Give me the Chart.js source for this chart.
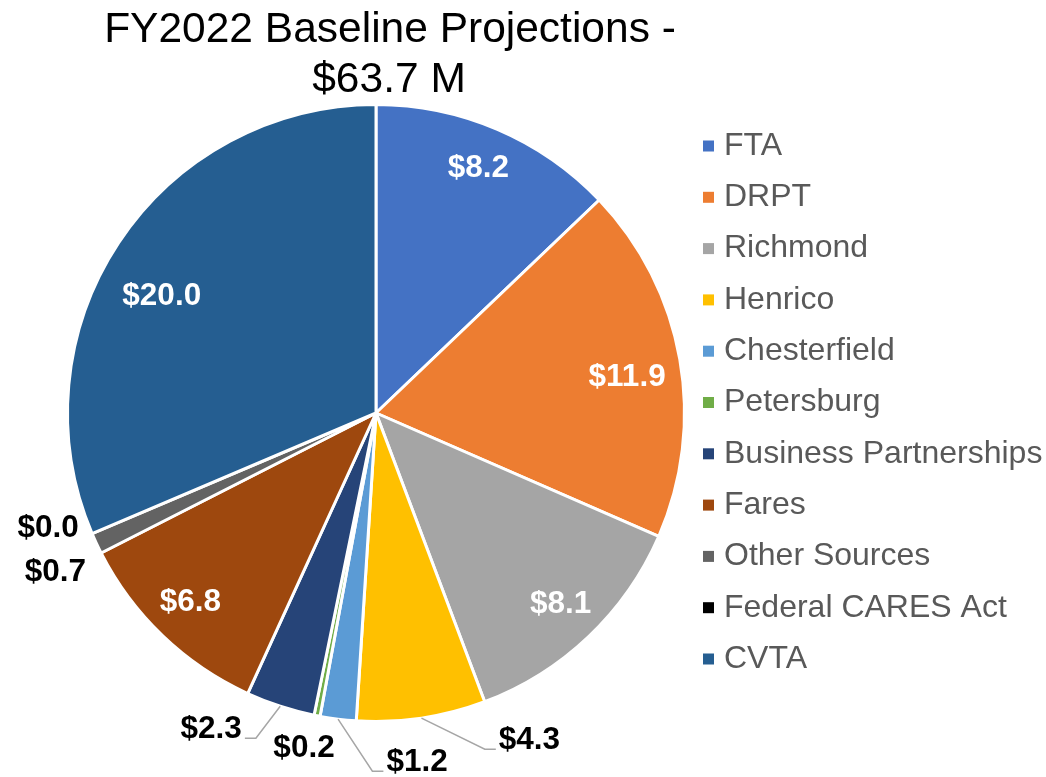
<!DOCTYPE html>
<html>
<head>
<meta charset="utf-8">
<title>FY2022 Baseline Projections</title>
<script src="https://cdn.jsdelivr.net/npm/chart.js@4.4.0/dist/chart.umd.min.js"></script>
<style>
	html, body { margin: 0; padding: 0; background: #ffffff; }
	#chartbox { width: 1046px; height: 777px; }
</style>
</head>
<body>
<div id="chartbox"><canvas id="fundingPie" width="1046" height="777"></canvas></div>
<script>

var titleLines = ["FY2022 Baseline Projections -", "$63.7 M"];

var sources = [
	"FTA",
	"DRPT",
	"Richmond",
	"Henrico",
	"Chesterfield",
	"Petersburg",
	"Business Partnerships",
	"Fares",
	"Other Sources",
	"Federal CARES Act",
	"CVTA"
];

// $ millions
var amounts = [8.2, 11.9, 8.1, 4.3, 1.2, 0.2, 2.3, 6.8, 0.7, 0.0, 20.0];

var sliceColors = [
	"#4472C4",
	"#ED7D31",
	"#A5A5A5",
	"#FFC000",
	"#5B9BD5",
	"#70AD47",
	"#264478",
	"#9E480E",
	"#636363",
	"#000000",
	"#255E91"
];

// where each value label goes: inside labels sit at a fraction of the radius,
// outside labels are offset from the middle of the slice's outer edge
var labelSpots = [
	{ inside: true, f: 0.86, dx: -2, dy: -1 },
	{ inside: true, f: 0.82, dx: 2, dy: 8 },
	{ inside: true, f: 0.86, dx: 2, dy: -1 },
	{ inside: false, dx: 108, dy: 22, leader: "right" },
	{ inside: false, dx: 79, dy: 43, leader: "right" },
	{ inside: false, dx: -13, dy: 33 },
	{ inside: false, dx: -69, dy: 23, leader: "left" },
	{ inside: true, f: 0.86, dx: -2, dy: -2 },
	{ inside: false, dx: -41, dy: 29 },
	{ inside: false, dx: -44, dy: -5 },
	{ inside: true, f: 0.79, dx: -11, dy: 18 }
];

function money(v){
	return "$" + v.toFixed(1);
}

var pieDecor = {
	id: 'pieDecor',
	afterDraw: function(chart){
		var ctx = chart.ctx;
		var meta = chart.getDatasetMeta(0);

		ctx.save();

		// title
		ctx.fillStyle = "#000000";
		ctx.font = "42.5px 'Liberation Sans', Arial, sans-serif";
		ctx.textAlign = "center";
		ctx.textBaseline = "alphabetic";
		ctx.fillText(titleLines[0], 390, 42);
		ctx.fillText(titleLines[1], 389, 92);

		// value labels
		ctx.font = "bold 31.5px 'Liberation Sans', Arial, sans-serif";
		ctx.textBaseline = "middle";
		meta.data.forEach(function(arc, i){
			var p = arc.getProps(['x', 'y', 'startAngle', 'endAngle', 'outerRadius'], true);
			var mid = (p.startAngle + p.endAngle) / 2;
			var spot = labelSpots[i];
			var txt = money(amounts[i]);
			var lx, ly;
			if (spot.inside) {
				lx = p.x + Math.cos(mid) * p.outerRadius * spot.f + spot.dx;
				ly = p.y + Math.sin(mid) * p.outerRadius * spot.f + spot.dy;
				ctx.fillStyle = "#FFFFFF";
			} else {
				var ex = p.x + Math.cos(mid) * p.outerRadius;
				var ey = p.y + Math.sin(mid) * p.outerRadius;
				lx = ex + spot.dx;
				ly = ey + spot.dy;
				if (spot.leader) {
					var half = ctx.measureText(txt).width / 2;
					var sgn = spot.leader === "right" ? -1 : 1;
					var endX = lx + sgn * (half + 3);
					var endY = ly + 9;
					ctx.strokeStyle = "#A6A6A6";
					ctx.lineWidth = 1.5;
					ctx.beginPath();
					ctx.moveTo(ex, ey);
					ctx.lineTo(endX + sgn * 11, endY);
					ctx.lineTo(endX, endY);
					ctx.stroke();
				}
				ctx.fillStyle = "#000000";
			}
			ctx.textAlign = "center";
			ctx.fillText(txt, lx, ly);
		});

		// legend
		ctx.font = "32px 'Liberation Sans', Arial, sans-serif";
		ctx.textAlign = "left";
		ctx.textBaseline = "middle";
		sources.forEach(function(name, i){
			var rowY = 146 + i * 51.3;
			ctx.fillStyle = sliceColors[i];
			ctx.fillRect(703, rowY - 5.5, 11, 11);
			ctx.fillStyle = "#595959";
			ctx.fillText(name, 724, rowY);
		});

		ctx.restore();
	}
};

function init_chart_funding(){

	if( typeof (Chart) === 'undefined'){ return; }

	var chart_pie_settings = {
		type: 'pie',
		data: {
			labels: sources,
			datasets: [{
				data: amounts,
				backgroundColor: sliceColors,
				borderColor: "#FFFFFF",
				borderWidth: 3
			}]
		},
		options: {
			responsive: false,
			animation: false,
			events: [],
			layout: {
				padding: { left: 66, right: 360, top: 103, bottom: 54 }
			},
			plugins: {
				legend: { display: false },
				title: { display: false },
				tooltip: { enabled: false }
			}
		},
		plugins: [pieDecor]
	};

	var chart_pie = new Chart(document.getElementById('fundingPie'), chart_pie_settings);
}

init_chart_funding();
</script>
</body>
</html>
